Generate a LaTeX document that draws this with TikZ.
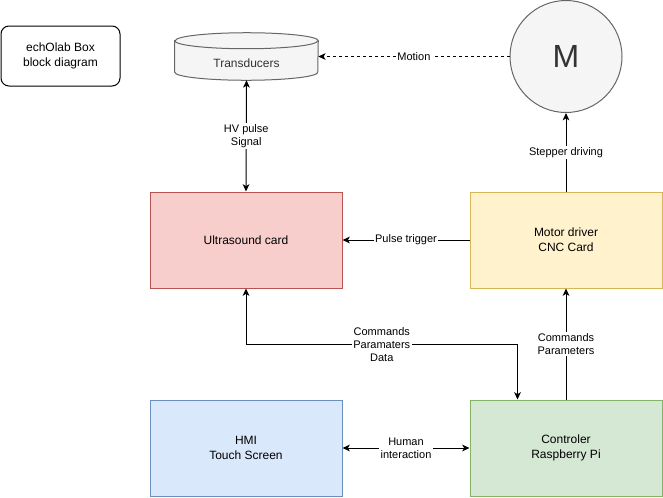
\documentclass[tikz,border=0pt]{standalone}
\usepackage{fontspec}
\setmainfont{Liberation Sans}
\usetikzlibrary{arrows.meta,positioning,calc}
\definecolor{usf}{HTML}{F8CECC}
\definecolor{usd}{HTML}{B85450}
\definecolor{drf}{HTML}{FFF2CC}
\definecolor{drd}{HTML}{D6B656}
\definecolor{hmf}{HTML}{DAE8FC}
\definecolor{hmd}{HTML}{6C8EBF}
\definecolor{ctf}{HTML}{D5E8D4}
\definecolor{ctd}{HTML}{82B366}
\definecolor{gyf}{HTML}{F5F5F5}
\definecolor{gyd}{HTML}{666666}
\definecolor{gyt}{HTML}{333333}

\begin{document}
\begin{tikzpicture}[x=0.75pt,y=-0.75pt,
    blk/.style={rectangle,draw,line width=0.75pt,minimum width=144pt,minimum height=72pt,align=center,font=\fontsize{9}{11.25}\selectfont},
    lbl/.style={fill=white,inner sep=1pt,align=center,font=\fontsize{8.25}{9.6}\selectfont},
    arr/.style={-{Stealth[length=5.5pt,width=5pt,inset=1.5pt]},line width=0.75pt},
    dbl/.style={{Stealth[length=5.5pt,width=5pt,inset=1.5pt]}-{Stealth[length=5.5pt,width=5pt,inset=1.5pt]},line width=0.75pt},
]
\useasboundingbox (0,0) rectangle (663,497);

% Title
\node[blk,rounded corners=6pt,minimum width=89.25pt,minimum height=45pt] (title) at (60.5,56) {echOlab Box\\block diagram};

% Transducers (cylinder)
\node[minimum width=107.25pt,minimum height=35.25pt,inner sep=0pt] (trans) at (246.5,56.5) {};
\path[fill=gyf,draw=gyd,line width=0.75pt] ($(trans.north west)+(0,8)$) -- ($(trans.south west)+(0,-8)$)
    arc[start angle=180,end angle=360,x radius=53.625pt,y radius=6pt]
    -- ($(trans.north east)+(0,8)$)
    arc[start angle=0,end angle=180,x radius=53.625pt,y radius=6pt] -- cycle;
\draw[gyd,line width=0.75pt] ($(trans.north west)+(0,8)$) arc[start angle=180,end angle=360,x radius=53.625pt,y radius=6pt];
\node[font=\fontsize{9}{11.25}\selectfont,text=gyt] (transtxt) at ($(trans.center)+(0,7)$) {Transducers};

% Motor
\node[circle,draw=gyd,fill=gyf,line width=0.75pt,minimum size=84pt,text=gyt,font=\fontsize{24}{28}\selectfont] (mot) at (566,56.5) {M};

% Blocks
\node[blk,fill=usf,draw=usd] (us) at (246,240) {Ultrasound card};
\node[blk,fill=drf,draw=drd] (drv) at (566,240) {Motor driver\\CNC Card};
\node[blk,fill=hmf,draw=hmd] (hmi) at (246,448) {HMI\\Touch Screen};
\node[blk,fill=ctf,draw=ctd] (ctl) at (566,448) {Controler\\Raspberry Pi};

% Arrows
\draw[dbl] (trans.south) -- node[lbl]{HV pulse\\Signal} (us.north);
\draw[arr,dash pattern=on 2.25pt off 2.25pt] (mot.west) -- node[lbl]{Motion} (trans.east);
\draw[arr] (drv.north) -- node[lbl]{Stepper driving} (mot.south);
\draw[arr] (drv.west) -- node[lbl]{Pulse trigger} (us.east);
\draw[dbl] (us.south) |- node[lbl,pos=0.75]{Commands\\Paramaters\\Data} ($(ctl.north west)+(48,-55)$) -- ($(ctl.north west)+(48,0)$);
\draw[arr] (ctl.north) -- node[lbl]{Commands\\Parameters} (drv.south);
\draw[dbl] (hmi.east) -- node[lbl]{Human\\interaction} (ctl.west);
\end{tikzpicture}
\end{document}
